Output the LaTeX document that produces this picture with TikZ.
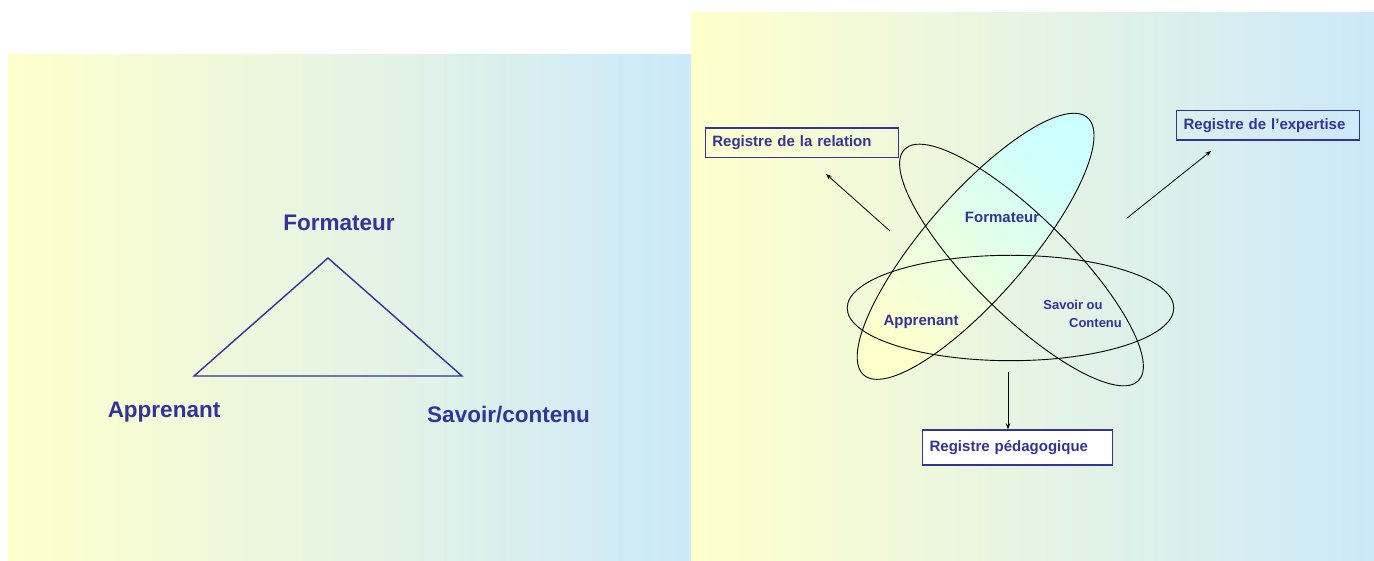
\documentclass[tikz,border=0pt]{standalone}
\usepackage{fontspec}
\setmainfont{Liberation Sans}
\usetikzlibrary{arrows.meta}
\definecolor{txtblue}{RGB}{51,51,153}
\definecolor{bgY}{RGB}{255,255,204}
\definecolor{bgB}{RGB}{204,233,250}
\definecolor{elY}{RGB}{255,255,204}
\definecolor{elC}{RGB}{204,255,255}
\begin{document}
\begin{tikzpicture}[x=1pt,y=1pt,
  lbl/.style={font=\fontsize{22.5}{26}\selectfont\bfseries, text=txtblue, inner sep=0pt},
  slbl/.style={font=\fontsize{15}{18}\selectfont\bfseries, text=txtblue, inner sep=0pt},
  xslbl/.style={font=\fontsize{13}{16}\selectfont\bfseries, text=txtblue, inner sep=0pt},
  regbox/.style={draw=txtblue, line width=1.3pt, font=\fontsize{15}{18}\selectfont\bfseries, text=txtblue, align=left, inner xsep=7pt, inner ysep=0pt, anchor=north west},
  ell/.style={draw=black, line width=0.9pt},
  arr/.style={draw=black, line width=0.8pt, -{Stealth[length=6pt,width=4.5pt]}},
  tri/.style={draw=txtblue, line width=1.4pt, line join=miter}
]
\useasboundingbox (0,0) rectangle (1374,560);
\fill[white] (0,0) rectangle (1374,560);
\shade[left color=bgY, right color=bgB] (8,0) rectangle (691,505);
\shade[left color=bgY, right color=bgB] (691,0) rectangle (1374,547);

% left panel
\coordinate (tF) at (328,302);
\coordinate (tA) at (194,184);
\coordinate (tS) at (462,184);
\draw[tri] (tF) -- (tA) -- (tS) -- cycle;
\node[lbl, anchor=base] (lF) at (339,329.3) {Formateur};
\node[lbl, anchor=base] (lA) at (164,142) {Apprenant};
\node[lbl, anchor=base] (lS) at (508.5,137) {Savoir/contenu};

% right panel ellipses
\shadedraw[ell, top color=elC, bottom color=elY, shading angle=-41]
  plot[domain=0:360, samples=181, variable=\t]
  ({975.6 + 170.5*cos(\t)*cos(49) - 51.4*sin(\t)*sin(49)},
   {313.7 + 170.5*cos(\t)*sin(49) + 51.4*sin(\t)*cos(49)}) -- cycle;
\coordinate (eR) at (1021.5,295);
\draw[ell, rotate around={-44.7:(eR)}] (eR) ellipse [x radius=164.5, y radius=48.8];
\coordinate (eH) at (1010.5,252);
\draw[ell] (eH) ellipse [x radius=163.3, y radius=52.7];

\node[slbl, anchor=base] (rF) at (1002,337) {Formateur};
\node[slbl, anchor=base] (rA) at (921,234) {Apprenant};
\node[xslbl, anchor=base] (rS1) at (1073,250) {Savoir ou};
\node[xslbl, anchor=base] (rS2) at (1095.5,232) {Contenu};

% boxes
\node[regbox, text width=179.3pt, minimum height=29.4pt] (bR) at (704.7,432.7) {Registre de la relation};
\node[regbox, text width=169pt, minimum height=29.3pt] (bE) at (1176,450) {Registre de l’expertise};
\node[regbox, fill=white, text width=176pt, minimum height=35pt] (bP) at (922,130.7) {Registre pédagogique};

% arrows
\coordinate (aR0) at (890,329);
\coordinate (aR1) at (826,386);
\draw[arr] (aR0) -- (aR1);
\coordinate (aE0) at (1126.7,341.7);
\coordinate (aE1) at (1211,409);
\draw[arr] (aE0) -- (aE1);
\coordinate (aP0) at (1008,188.3);
\draw[arr] (aP0) -- (bP.north -| aP0);
\end{tikzpicture}
\end{document}
